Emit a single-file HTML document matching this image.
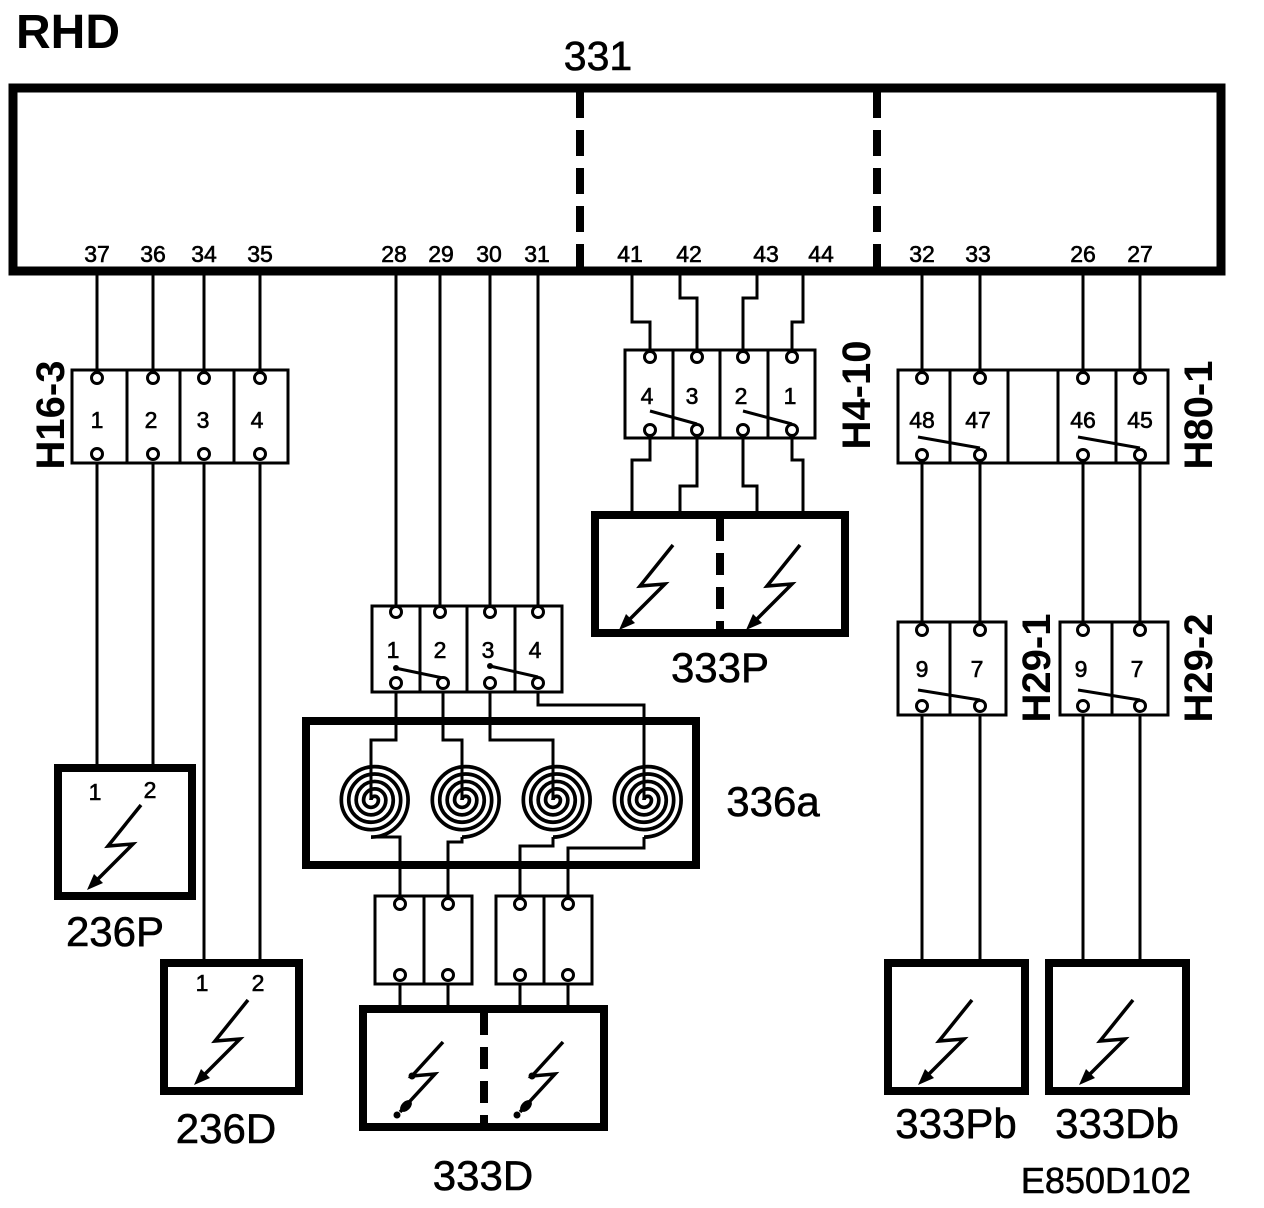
<!DOCTYPE html>
<html><head><meta charset="utf-8"><style>
html,body{margin:0;padding:0;background:#fff}
svg{display:block}
text{font-family:"Liberation Sans",Arial,sans-serif;fill:#000}
.pn{stroke:#000;stroke-width:0.6}
</style></head><body>
<svg width="1264" height="1208" viewBox="0 0 1264 1208" xmlns="http://www.w3.org/2000/svg">
<defs>
<path id="sp" d="M0,0 A3.5,3.5 0 0 1 7,0 A7,7 0 0 1 -7,0 A10.5,10.5 0 0 1 14,0 A14,14 0 0 1 -14,0 A17.5,17.5 0 0 1 21,0 A21,21 0 0 1 -21,0 A24.5,24.5 0 0 1 28,0 A28,28 0 0 1 -28,0 A31.5,31.5 0 0 1 35,0 A35,35 0 0 1 0,35" fill="none" stroke="#000" stroke-width="3.5" transform="scale(1.06)"/>
<g id="lt">
<polyline points="16,-27 -17,14 8,12 -28,48" fill="none" stroke="#000" stroke-width="3.5"/>
<polygon points="-38,58 -22,51 -31,42" fill="#000"/>
</g>
<g id="lt2">
<polyline points="15,-28 -16,6 7,4 -28,42" fill="none" stroke="#000" stroke-width="3.5"/>
<circle cx="-16" cy="6" r="3.5" fill="#000"/>
<ellipse cx="-22" cy="36" rx="7" ry="4.5" fill="#000" transform="rotate(-45 -22 36)"/>
<circle cx="-31" cy="45" r="3.5" fill="#000"/>
</g>
</defs>

<text x="16" y="48" font-size="48" font-weight="bold">RHD</text>
<text x="598" y="70" font-size="41" text-anchor="middle" class="pn">331</text>

<rect x="13" y="88" width="1208" height="183" fill="none" stroke="#000" stroke-width="9"/>
<line x1="580" y1="92" x2="580" y2="268" stroke="#000" stroke-width="8" stroke-dasharray="26,12"/>
<line x1="877" y1="92" x2="877" y2="268" stroke="#000" stroke-width="8" stroke-dasharray="26,12"/>

<g font-size="23" text-anchor="middle" class="pn">
<text x="97" y="262">37</text><text x="153" y="262">36</text><text x="204" y="262">34</text><text x="260" y="262">35</text>
<text x="394" y="262">28</text><text x="441" y="262">29</text><text x="489" y="262">30</text><text x="537" y="262">31</text>
<text x="630" y="262">41</text><text x="689" y="262">42</text><text x="766" y="262">43</text><text x="821" y="262">44</text>
<text x="922" y="262">32</text><text x="978" y="262">33</text><text x="1083" y="262">26</text><text x="1140" y="262">27</text>
</g>

<g fill="none" stroke="#000" stroke-width="3">
<line x1="97" y1="275" x2="97" y2="767"/><line x1="153" y1="275" x2="153" y2="767"/>
<line x1="204" y1="275" x2="204" y2="962"/><line x1="260" y1="275" x2="260" y2="962"/>
<line x1="396" y1="275" x2="396" y2="606"/><line x1="440" y1="275" x2="440" y2="606"/>
<line x1="490" y1="275" x2="490" y2="606"/><line x1="538" y1="275" x2="538" y2="606"/>
<polyline points="632,275 632,322 650,322 650,352"/>
<polyline points="680,275 680,298 697,298 697,352"/>
<polyline points="757,275 757,298 743,298 743,352"/>
<polyline points="803,275 803,322 792,322 792,352"/>
<polyline points="650,436 650,460 632,460 632,514"/>
<polyline points="697,436 697,486 680,486 680,514"/>
<polyline points="743,436 743,486 757,486 757,514"/>
<polyline points="792,436 792,460 803,460 803,514"/>
<line x1="922" y1="275" x2="922" y2="962"/><line x1="980" y1="275" x2="980" y2="962"/>
<line x1="1083" y1="275" x2="1083" y2="962"/><line x1="1140" y1="275" x2="1140" y2="962"/>
<polyline points="396,688 396,740 371,740 371,800"/>
<polyline points="443,688 443,740 462,740 462,800"/>
<polyline points="490,688 490,740 553,740 553,800"/>
<polyline points="538,688 538,705 644,705 644,800"/>
<polyline points="371,837 400,837 400,898"/>
<polyline points="462,837 462,842 448,842 448,898"/>
<polyline points="553,837 553,846 520,846 520,898"/>
<polyline points="644,837 644,848 568,848 568,898"/>
<line x1="400" y1="965" x2="400" y2="1008"/><line x1="448" y1="965" x2="448" y2="1008"/>
<line x1="520" y1="965" x2="520" y2="1008"/><line x1="568" y1="965" x2="568" y2="1008"/>
</g>

<g fill="#fff" stroke="#000" stroke-width="3">
<rect x="72" y="370" width="216" height="93"/>
<rect x="372" y="606" width="190" height="86"/>
<rect x="625" y="350" width="190" height="88"/>
<rect x="898" y="370" width="270" height="93"/>
<rect x="898" y="622" width="108" height="93"/>
<rect x="1060" y="622" width="108" height="93"/>
<rect x="375" y="896" width="97" height="88"/>
<rect x="496" y="896" width="96" height="88"/>
</g>
<g stroke="#000" stroke-width="3">
<line x1="127" y1="370" x2="127" y2="463"/><line x1="180" y1="370" x2="180" y2="463"/><line x1="234" y1="370" x2="234" y2="463"/>
<line x1="420" y1="606" x2="420" y2="692"/><line x1="467" y1="606" x2="467" y2="692"/><line x1="515" y1="606" x2="515" y2="692"/>
<line x1="673" y1="350" x2="673" y2="438"/><line x1="720" y1="350" x2="720" y2="438"/><line x1="768" y1="350" x2="768" y2="438"/>
<line x1="950" y1="370" x2="950" y2="463"/><line x1="1008" y1="370" x2="1008" y2="463"/><line x1="1058" y1="370" x2="1058" y2="463"/><line x1="1116" y1="370" x2="1116" y2="463"/>
<line x1="950" y1="622" x2="950" y2="715"/><line x1="1112" y1="622" x2="1112" y2="715"/>
<line x1="424" y1="896" x2="424" y2="984"/><line x1="544" y1="896" x2="544" y2="984"/>
<line x1="395" y1="668" x2="443" y2="678"/><line x1="490" y1="666" x2="538" y2="677"/>
<line x1="650" y1="411" x2="697" y2="424"/><line x1="743" y1="411" x2="792" y2="424"/>
<line x1="918" y1="437" x2="980" y2="448"/><line x1="1078" y1="437" x2="1140" y2="448"/>
<line x1="918" y1="690" x2="980" y2="700"/><line x1="1078" y1="690" x2="1140" y2="700"/>
</g>
<g fill="#000"><circle cx="396" cy="668" r="3"/><circle cx="490" cy="666" r="3"/></g>

<g fill="#fff" stroke="#000" stroke-width="3">
<circle cx="97" cy="378" r="5.5"/><circle cx="153" cy="378" r="5.5"/><circle cx="204" cy="378" r="5.5"/><circle cx="260" cy="378" r="5.5"/>
<circle cx="97" cy="454" r="5.5"/><circle cx="153" cy="454" r="5.5"/><circle cx="204" cy="454" r="5.5"/><circle cx="260" cy="454" r="5.5"/>
<circle cx="396" cy="612" r="5.5"/><circle cx="440" cy="612" r="5.5"/><circle cx="490" cy="612" r="5.5"/><circle cx="538" cy="612" r="5.5"/>
<circle cx="396" cy="683" r="5.5"/><circle cx="443" cy="683" r="5.5"/><circle cx="490" cy="683" r="5.5"/><circle cx="538" cy="683" r="5.5"/>
<circle cx="650" cy="357" r="5.5"/><circle cx="697" cy="357" r="5.5"/><circle cx="743" cy="357" r="5.5"/><circle cx="792" cy="357" r="5.5"/>
<circle cx="650" cy="430" r="5.5"/><circle cx="697" cy="430" r="5.5"/><circle cx="743" cy="430" r="5.5"/><circle cx="792" cy="430" r="5.5"/>
<circle cx="922" cy="378" r="5.5"/><circle cx="980" cy="378" r="5.5"/><circle cx="1083" cy="378" r="5.5"/><circle cx="1140" cy="378" r="5.5"/>
<circle cx="922" cy="455" r="5.5"/><circle cx="980" cy="455" r="5.5"/><circle cx="1083" cy="455" r="5.5"/><circle cx="1140" cy="455" r="5.5"/>
<circle cx="922" cy="630" r="5.5"/><circle cx="980" cy="630" r="5.5"/><circle cx="1083" cy="630" r="5.5"/><circle cx="1140" cy="630" r="5.5"/>
<circle cx="922" cy="706" r="5.5"/><circle cx="980" cy="706" r="5.5"/><circle cx="1083" cy="706" r="5.5"/><circle cx="1140" cy="706" r="5.5"/>
<circle cx="400" cy="904" r="5.5"/><circle cx="448" cy="904" r="5.5"/><circle cx="520" cy="904" r="5.5"/><circle cx="568" cy="904" r="5.5"/>
<circle cx="400" cy="975" r="5.5"/><circle cx="448" cy="975" r="5.5"/><circle cx="520" cy="975" r="5.5"/><circle cx="568" cy="975" r="5.5"/>
</g>

<g font-size="23" text-anchor="middle" class="pn">
<text x="97" y="428">1</text><text x="151" y="428">2</text><text x="203" y="428">3</text><text x="257" y="428">4</text>
<text x="393" y="658">1</text><text x="440" y="658">2</text><text x="488" y="658">3</text><text x="535" y="658">4</text>
<text x="647" y="404">4</text><text x="692" y="404">3</text><text x="741" y="404">2</text><text x="790" y="404">1</text>
<text x="922" y="428">48</text><text x="978" y="428">47</text><text x="1083" y="428">46</text><text x="1140" y="428">45</text>
<text x="922" y="677">9</text><text x="977" y="677">7</text><text x="1081" y="677">9</text><text x="1137" y="677">7</text>
</g>

<g font-size="40" font-weight="bold" text-anchor="middle">
<text transform="translate(64,415) rotate(-90)">H16-3</text>
<text transform="translate(870,395) rotate(-90)">H4-10</text>
<text transform="translate(1212,415) rotate(-90)">H80-1</text>
<text transform="translate(1050,668) rotate(-90)">H29-1</text>
<text transform="translate(1212,668) rotate(-90)">H29-2</text>
</g>

<g fill="none" stroke="#000" stroke-width="8">
<rect x="58" y="768" width="134" height="128"/>
<rect x="164" y="963" width="135" height="128"/>
<rect x="306" y="721" width="390" height="144"/>
<rect x="595" y="515" width="250" height="118"/>
<rect x="363" y="1009" width="241" height="118"/>
<rect x="888" y="963" width="137" height="128"/>
<rect x="1049" y="963" width="137" height="128"/>
</g>
<line x1="720" y1="519" x2="720" y2="629" stroke="#000" stroke-width="8" stroke-dasharray="22,12"/>
<line x1="484" y1="1013" x2="484" y2="1123" stroke="#000" stroke-width="8" stroke-dasharray="22,12"/>

<use href="#sp" x="371" y="800"/><use href="#sp" x="462" y="800"/><use href="#sp" x="553" y="800"/><use href="#sp" x="644" y="800"/>

<use href="#lt" x="125" y="832"/>
<use href="#lt" x="232" y="1027"/>
<use href="#lt" x="657" y="572"/>
<use href="#lt" x="784" y="572"/>
<use href="#lt" x="956" y="1027"/>
<use href="#lt" x="1117" y="1027"/>
<use href="#lt2" x="428" y="1070"/>
<use href="#lt2" x="548" y="1070"/>

<g font-size="23" text-anchor="middle" class="pn">
<text x="95" y="800">1</text><text x="150" y="798">2</text>
<text x="202" y="991">1</text><text x="258" y="991">2</text>
</g>

<g font-size="42" text-anchor="middle" class="pn">
<text x="115" y="946">236P</text>
<text x="226" y="1143">236D</text>
<text x="720" y="682">333P</text>
<text x="773" y="816">336a</text>
<text x="483" y="1190">333D</text>
<text x="956" y="1138">333Pb</text>
<text x="1117" y="1138">333Db</text>
<text x="1106" y="1193" font-size="36">E850D102</text>
</g>
</svg>
</body></html>
